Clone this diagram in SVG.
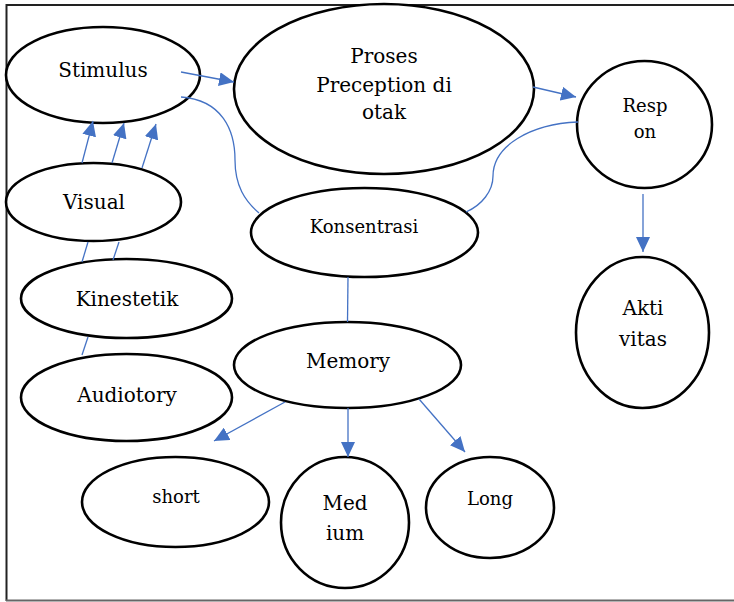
<svg xmlns="http://www.w3.org/2000/svg" width="734" height="602" viewBox="0 0 734 602">
<defs>
<style>
.n ellipse{fill:#fff;stroke:#000;stroke-width:2.6}
.n text{font-family:"DejaVu Serif","Liberation Serif",serif;font-size:20px;fill:#000;text-anchor:middle}
.n text.s{font-size:18px}
.c path,.c line{fill:none;stroke:#4472C4;stroke-width:1.3}
.b{stroke:#222;stroke-width:2;fill:none}
</style>
<marker id="ah" markerUnits="userSpaceOnUse" markerWidth="16" markerHeight="14" refX="15" refY="7" orient="auto">
<path d="M0,0 L15,7 L0,14 z" fill="#4472C4"/>
</marker>
</defs>
<rect width="734" height="602" fill="#fff"/>
<g id="border">
<line class="b" x1="6" y1="5" x2="734" y2="5"/>
<line class="b" x1="6.5" y1="4" x2="6.5" y2="601"/>
<line x1="6" y1="600.5" x2="734" y2="600.5" stroke="#666" stroke-width="2"/>
</g>
<g class="n" id="stimulus"><ellipse cx="103" cy="75" rx="97" ry="48"/><text x="103" y="77">Stimulus</text></g>
<g class="n" id="proses"><ellipse cx="384" cy="89" rx="150" ry="85"/><text x="384" y="63">Proses</text><text x="384" y="92">Preception di</text><text x="384" y="119">otak</text></g>
<g class="n" id="respon"><ellipse cx="644.5" cy="124.5" rx="67.5" ry="63.5"/><text class="s" x="645" y="112">Resp</text><text class="s" x="645" y="138">on</text></g>
<g class="n" id="visual"><ellipse cx="93.5" cy="202" rx="87.5" ry="39"/><text x="94" y="209">Visual</text></g>
<g class="n" id="konsentrasi"><ellipse cx="364.5" cy="232.5" rx="113.5" ry="44.5"/><text class="s" x="364" y="233">Konsentrasi</text></g>
<g class="n" id="kinestetik"><ellipse cx="126.5" cy="298.5" rx="105.5" ry="39.5"/><text x="127" y="306">Kinestetik</text></g>
<g class="n" id="aktivitas"><ellipse cx="642.5" cy="332.5" rx="66.5" ry="75.5"/><text x="643" y="315">Akti</text><text x="643" y="346">vitas</text></g>
<g class="n" id="memory"><ellipse cx="347.5" cy="365" rx="113.5" ry="43"/><text x="348" y="368">Memory</text></g>
<g class="n" id="audiotory"><ellipse cx="126.5" cy="397.5" rx="105.5" ry="43.5"/><text x="127" y="402">Audiotory</text></g>
<g class="n" id="short"><ellipse cx="175.5" cy="502" rx="93.5" ry="45"/><text class="s" x="176" y="503">short</text></g>
<g class="n" id="medium"><ellipse cx="345" cy="522.5" rx="64" ry="65.5"/><text x="345" y="510">Med</text><text x="345" y="540">ium</text></g>
<g class="n" id="long"><ellipse cx="490" cy="507.5" rx="64" ry="50.5"/><text class="s" x="490" y="505">Long</text></g>
<g class="c" id="connectors">
<line x1="181" y1="72" x2="234" y2="82" marker-end="url(#ah)"/>
<line x1="533" y1="87" x2="576" y2="97" marker-end="url(#ah)"/>
<path d="M181,97 C222,100 235,130 235,160 C235,186 245,201 259,213"/>
<path d="M578,122 C530,124 493,146 493,176 C493,191 482,205 466,212"/>
<line x1="348" y1="277" x2="347.5" y2="322"/>
<line x1="82" y1="163" x2="93" y2="121" marker-end="url(#ah)"/>
<line x1="112" y1="163" x2="124" y2="123" marker-end="url(#ah)"/>
<line x1="142" y1="168" x2="156" y2="124" marker-end="url(#ah)"/>
<line x1="82" y1="262" x2="88" y2="242"/>
<line x1="113" y1="260" x2="119" y2="242"/>
<line x1="82" y1="355" x2="88" y2="337"/>
<line x1="285" y1="402" x2="214" y2="441" marker-end="url(#ah)"/>
<line x1="348" y1="408" x2="348" y2="457" marker-end="url(#ah)"/>
<line x1="419" y1="399" x2="465" y2="452" marker-end="url(#ah)"/>
<line x1="643" y1="194" x2="643" y2="252" marker-end="url(#ah)"/>
</g>
</svg>
